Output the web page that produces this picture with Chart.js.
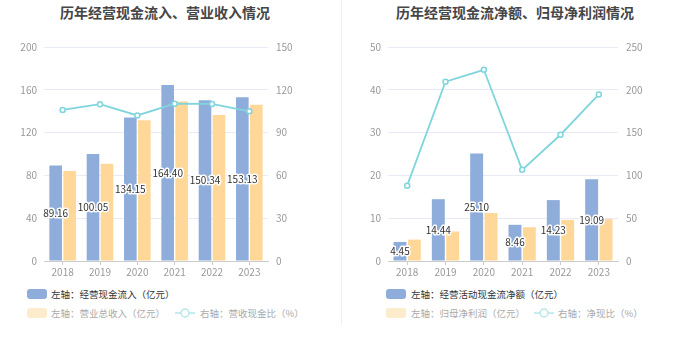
<!DOCTYPE html>
<html>
<head>
<meta charset="utf-8">
<script src="https://cdn.jsdelivr.net/npm/chart.js@4"></script>
<style>
  body { margin: 0; background: #fff; font-family: "Noto Sans CJK SC", sans-serif; }
  #wrap { position: relative; width: 680px; height: 349px; overflow: hidden; }
  canvas { position: absolute; top: 0; }
  .title { position: absolute; top: 2px; width: 340px; text-align: center; font-size: 14px; font-weight: bold; color: #464646; line-height: 20px; }
  .sep { position: absolute; left: 341px; top: 0; width: 1px; height: 325px; background: #f0f0f0; }
  .lg { position: absolute; font-size: 9.5px; line-height: 12px; white-space: nowrap; }
  .box { position: absolute; width: 20px; height: 10px; border-radius: 3px; }
</style>
</head>
<body>
<div id="wrap">
  <div class="title" style="left:-5px">历年经营现金流入、营业收入情况</div>
  <div class="title" style="left:345px">历年经营现金流净额、归母净利润情况</div>
  <div class="sep"></div>
  <canvas id="chartLeft" width="340" height="285" style="left:0"></canvas>
  <canvas id="chartRight" width="340" height="285" style="left:340px"></canvas>
  <div id="legends"></div>
</div>
<script>
// --- Datos ---
const years = ["2018", "2019", "2020", "2021", "2022", "2023"];

// gráfico izquierdo
const cashInflow = [89.16, 100.05, 134.15, 164.40, 150.34, 153.13];   // 经营现金流入（亿元）
const revenue = [84.2, 91.0, 131.5, 149.0, 136.5, 146.0];             // 营业总收入（亿元）
const cashRevenueRatio = [105.9, 109.9, 102.0, 110.3, 110.1, 104.9];  // 营收现金比（%）
const leftTicks = [0, 40, 80, 120, 160, 200];
const leftTicksR = [0, 30, 60, 90, 120, 150];

// gráfico derecho
const netCashFlow = [4.45, 14.44, 25.10, 8.46, 14.23, 19.09];  // 经营活动现金流净额（亿元）
const netProfit = [5.0, 6.9, 11.2, 7.9, 9.6, 9.8];             // 归母净利润（亿元）
const cashProfitRatio = [88.0, 209.4, 223.4, 106.5, 147.5, 194.6]; // 净现比（%）
const rightTicks = [0, 10, 20, 30, 40, 50];
const rightTicksR = [0, 50, 100, 150, 200, 250];

const BLUE = "#8eaddb", ORANGE = "#ffd899", CYAN = "#7fd5dc";
const FONT = '"Noto Sans CJK SC", sans-serif';
Chart.defaults.font.family = FONT;

const el = (id) => document.getElementById(id);

// etiquetas dentro de la barra azul (con contorno blanco)
const barLabels = {
  id: "barLabels",
  afterDatasetsDraw(chart) {
    const { ctx } = chart;
    const meta = chart.getDatasetMeta(1);
    const values = chart.data.datasets[1].data;
    ctx.save();
    ctx.font = "10px " + FONT;
    ctx.textAlign = "center";
    ctx.textBaseline = "middle";
    ctx.lineJoin = "round";
    ctx.lineWidth = 3;
    ctx.strokeStyle = "#fff";
    ctx.fillStyle = "#333";
    meta.data.forEach((bar, i) => {
      const y = (bar.y + bar.base) / 2;
      ctx.strokeText(values[i].toFixed(2), bar.x, y);
      ctx.fillText(values[i].toFixed(2), bar.x, y);
    });
    ctx.restore();
  }
};

function makeChart(id, bars1, bars2, line, ticksL, ticksR, leftW, rightW) {
  return new Chart(el(id).getContext("2d"), {
    type: "bar",
    data: {
      labels: years,
      datasets: [
        {
          type: "line", data: line, yAxisID: "y1", order: 0,
          borderColor: CYAN, borderWidth: 1.8, tension: 0,
          pointRadius: 2.5, pointBorderWidth: 1.5,
          pointBackgroundColor: "#fff", pointBorderColor: CYAN
        },
        { data: bars1, backgroundColor: BLUE, yAxisID: "y", order: 1,
          categoryPercentage: 0.75, barPercentage: 0.9 },
        { data: bars2, backgroundColor: ORANGE, yAxisID: "y", order: 1,
          categoryPercentage: 0.75, barPercentage: 0.9 }
      ]
    },
    options: {
      responsive: false,
      animation: false,
      devicePixelRatio: 1,
      layout: { padding: { top: 47, bottom: 4, left: 0, right: 0 } },
      plugins: { legend: { display: false }, tooltip: { enabled: false } },
      scales: {
        x: {
          offset: true,
          afterFit: (s) => { s.height = 20; },
          grid: { offset: false, drawOnChartArea: false, drawTicks: true, tickLength: 4, color: "#ccc" },
          border: { color: "#ccc" },
          ticks: { color: "#999", font: { size: 10 }, padding: 1 }
        },
        y: {
          position: "left",
          min: ticksL[0], max: ticksL[ticksL.length - 1],
          afterFit: (s) => { s.width = leftW; },
          afterBuildTicks: (s) => { s.ticks = ticksL.map((v) => ({ value: v })); },
          grid: { color: "#e8ebf5", drawTicks: false },
          border: { display: false },
          ticks: { color: "#999", font: { size: 10 }, padding: 7 }
        },
        y1: {
          position: "right",
          min: ticksR[0], max: ticksR[ticksR.length - 1],
          afterFit: (s) => { s.width = rightW; },
          afterBuildTicks: (s) => { s.ticks = ticksR.map((v) => ({ value: v })); },
          grid: { display: false, drawTicks: false },
          border: { display: false },
          ticks: { color: "#999", font: { size: 10 }, padding: 8 }
        }
      }
    },
    plugins: [barLabels]
  });
}

makeChart("chartLeft", cashInflow, revenue, cashRevenueRatio, leftTicks, leftTicksR, 44, 72);
makeChart("chartRight", netCashFlow, netProfit, cashProfitRatio, rightTicks, rightTicksR, 48, 62);

// --- Leyendas ---
const lineIcon = (x, y) =>
  `<svg style="position:absolute;left:${x}px;top:${y - 6}px" width="20" height="12">
     <line x1="0" y1="6" x2="20" y2="6" stroke="#b4e6ea" stroke-width="1.5"/>
     <circle cx="10" cy="6" r="4" fill="#fff" stroke="#b4e6ea" stroke-width="1.5"/>
   </svg>`;

function legend(ox, row1, row2a, row2b, boxX, textX, lineX, lineTextX) {
  return `
    <div class="box" style="left:${ox + boxX}px;top:289px;background:${BLUE}"></div>
    <div class="lg" style="left:${ox + textX}px;top:288px;color:#333">${row1}</div>
    <div class="box" style="left:${ox + boxX}px;top:308px;background:#fdeccb"></div>
    <div class="lg" style="left:${ox + textX}px;top:307px;color:#aaa">${row2a}</div>
    ${lineIcon(ox + lineX, 313)}
    <div class="lg" style="left:${ox + lineTextX}px;top:307px;color:#aaa">${row2b}</div>`;
}

el("legends").innerHTML =
  legend(0, "左轴：经营现金流入（亿元）", "左轴：营业总收入（亿元）", "右轴：营收现金比（%）", 27, 51, 175, 200) +
  legend(340, "左轴：经营活动现金流净额（亿元）", "左轴：归母净利润（亿元）", "右轴：净现比（%）", 46, 71, 194, 218);
</script>
</body>
</html>
